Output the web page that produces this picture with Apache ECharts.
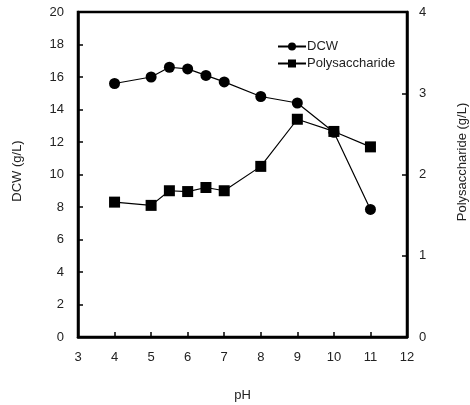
<!DOCTYPE html>
<html>
<head>
<meta charset="utf-8">
<script src="https://cdn.jsdelivr.net/npm/echarts@6/dist/echarts.min.js"></script>
<style>html,body{margin:0;padding:0;background:#fff}#c{width:470px;height:405px}</style>
</head>
<body>
<div id="c"></div>
<script>
const pH = [4, 5, 5.5, 6, 6.5, 7, 8, 9, 10, 11];
const dcw = [15.6, 16.0, 16.6, 16.5, 16.1, 15.7, 14.8, 14.4, 12.6, 7.85];
const polysaccharide = [1.66, 1.62, 1.80, 1.79, 1.84, 1.80, 2.10, 2.68, 2.53, 2.34];
const xTicks = [3, 12, 1];
const leftTicks = [0, 20, 2];
const rightTicks = [0, 4, 1];

const font = 'Liberation Sans, Arial, sans-serif';
const txt = '#222';
const fs = 13;
const chart = echarts.init(document.getElementById('c'));
const axisCommon = {
  axisLine: {show: true, lineStyle: {color: '#000', width: 2.5}},
  axisTick: {show: true, inside: true, length: 5, lineStyle: {color: '#000', width: 1.5}},
  splitLine: {show: false},
  axisLabel: {color: txt, fontSize: fs, fontFamily: font}
};
chart.setOption({
  animation: false,
  backgroundColor: '#fff',
  grid: {left: 78, right: 63, top: 12, bottom: 68, containLabel: false, outerBoundsMode: 'none',
         show: true, borderColor: '#000', borderWidth: 2.5},
  legend: {
    orient: 'vertical', left: 272, top: 35, itemGap: 4, itemWidth: 28, itemHeight: 10,
    textStyle: {color: txt, fontSize: fs, fontFamily: font, padding: [0,0,0,-4]},
    data: ['DCW', 'Polysaccharide']
  },
  graphic: [
    {type: 'text', x: 17, y: 171, rotation: Math.PI / 2,
     style: {text: 'DCW (g/L)', fill: txt, font: fs + 'px ' + font, align: 'center', verticalAlign: 'middle'}},
    {type: 'text', x: 462, y: 162, rotation: Math.PI / 2,
     style: {text: 'Polysaccharide (g/L)', fill: txt, font: fs + 'px ' + font, align: 'center', verticalAlign: 'middle'}}
  ],
  xAxis: Object.assign({}, axisCommon, {
    type: 'value', min: xTicks[0], max: xTicks[1], interval: xTicks[2],
    name: 'pH', nameLocation: 'middle', nameGap: 52,
    nameTextStyle: {color: txt, fontSize: fs, fontFamily: font},
    axisLabel: Object.assign({}, axisCommon.axisLabel, {margin: 14})
  }),
  yAxis: [
    Object.assign({}, axisCommon, {
      type: 'value', min: leftTicks[0], max: leftTicks[1], interval: leftTicks[2],
      axisLabel: Object.assign({}, axisCommon.axisLabel, {margin: 14})
    }),
    Object.assign({}, axisCommon, {
      type: 'value', position: 'right', min: rightTicks[0], max: rightTicks[1], interval: rightTicks[2],
      axisLabel: Object.assign({}, axisCommon.axisLabel, {margin: 12})
    })
  ],
  series: [
    {
      name: 'Polysaccharide', type: 'line', yAxisIndex: 1,
      data: pH.map((x, i) => [x, polysaccharide[i]]),
      symbol: 'rect', symbolSize: 11,
      itemStyle: {color: '#000'}, lineStyle: {color: '#000', width: 1.2}
    },
    {
      name: 'DCW', type: 'line', yAxisIndex: 0,
      data: pH.map((x, i) => [x, dcw[i]]),
      symbol: 'circle', symbolSize: 11,
      itemStyle: {color: '#000'}, lineStyle: {color: '#000', width: 1.2}
    }
  ]
});
</script>
</body>
</html>
